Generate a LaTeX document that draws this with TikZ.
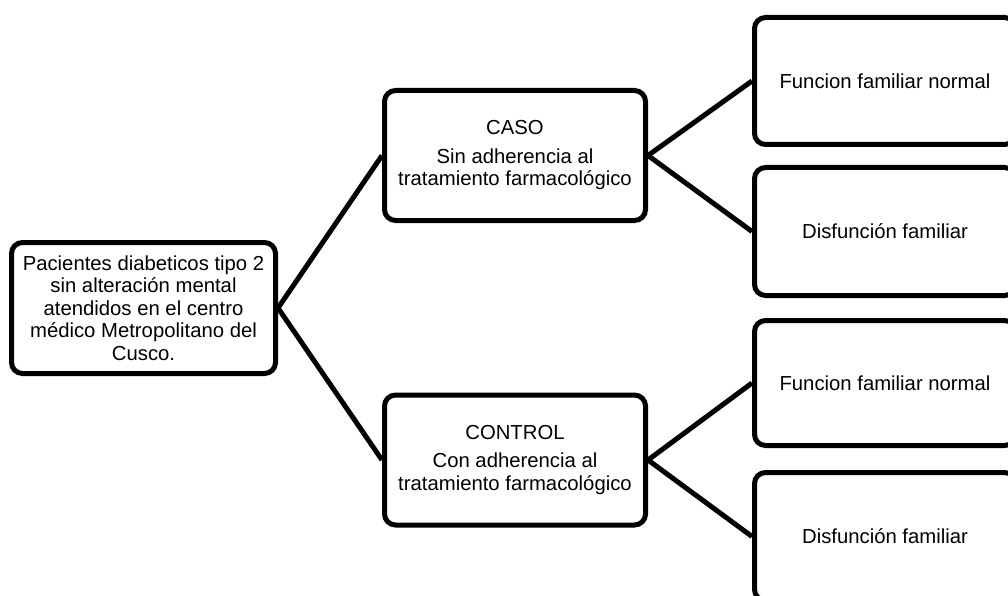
\documentclass[tikz,border=0pt]{standalone}
\usepackage{fontspec}
\setmainfont{Liberation Sans}
\begin{document}
\begin{tikzpicture}[x=1pt,y=-1pt,
  box/.style={draw=black,line width=5pt,rounded corners=11pt,fill=white,align=center,
    inner sep=0pt,font=\fontsize{20.3}{22.5}\selectfont},
  conn/.style={draw=black,line width=5pt}]
\useasboundingbox (0,0) rectangle (1008,596);
\node[box,minimum width=264pt,minimum height=131pt] (src) at (143.5,308)
  {Pacientes diabeticos tipo 2\\sin alteración mental\\atendidos en el centro\\médico Metropolitano del\\Cusco.};
\node[box,minimum width=261pt,minimum height=130pt] (caso) at (515,155.5)
  {CASO\\[6pt]Sin adherencia al\\tratamiento farmacológico};
\node[box,minimum width=261pt,minimum height=130pt] (ctrl) at (515,460)
  {CONTROL\\[6pt]Con adherencia al\\tratamiento farmacológico};
\node[box,minimum width=261pt,minimum height=127pt] (r1) at (885,81) {Funcion familiar normal};
\node[box,minimum width=261pt,minimum height=128pt] (r2) at (885,231.5) {Disfunción familiar};
\node[box,minimum width=261pt,minimum height=125pt] (r3) at (885,383) {Funcion familiar normal};
\node[box,minimum width=261pt,minimum height=128pt] (r4) at (885,536.5) {Disfunción familiar};
\draw[conn] (src.east) -- (caso.west);
\draw[conn] (src.east) -- (ctrl.west);
\draw[conn] (caso.east) -- (r1.west);
\draw[conn] (caso.east) -- (r2.west);
\draw[conn] (ctrl.east) -- (r3.west);
\draw[conn] (ctrl.east) -- (r4.west);
\end{tikzpicture}
\end{document}
